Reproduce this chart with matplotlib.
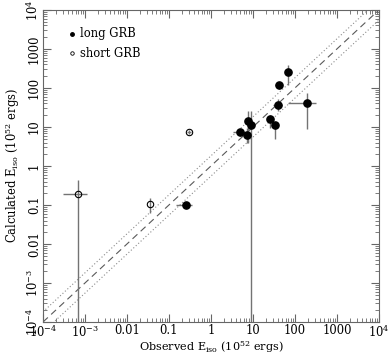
import numpy as np
import matplotlib
matplotlib.use("Agg")
import matplotlib.pyplot as plt
from matplotlib.ticker import FixedLocator, LogLocator, NullFormatter

plt.rcParams['font.family'] = 'DejaVu Serif'
plt.rcParams['mathtext.fontset'] = 'dejavuserif'

## long GRB : observed, calculated and error ranges (10^52 ergs)
long_x = [69, 41, 40, 190, 26, 33, 7.5, 9.0, 4.9, 7.4, 0.25]
long_x_lo = [69, 33, 30, 67, 26, 33, 7.5, 9.0, 3.4, 7.4, 0.15]
long_x_hi = [69, 50, 50, 316, 26, 33, 7.5, 9.0, 7.1, 7.4, 0.35]
long_y = [250, 120, 37, 42, 16, 11, 14, 11, 7.3, 6.3, 0.1]
long_y_lo = [120, 93, 25, 8.7, 9.3, 4.9, 3.8, 1e-5, 6.0, 3.8, 0.1]
long_y_hi = [390, 138, 51, 76, 20, 13.7, 25, 25, 8.8, 9.3, 0.1]

## short GRB
short_x = [7e-4, 0.035, 0.3]
short_x_lo = [3e-4, 0.035, 0.27]
short_x_hi = [1.1e-3, 0.035, 0.34]
short_y = [0.19, 0.107, 7.4]
short_y_lo = [1e-5, 0.062, 6.6]
short_y_hi = [0.44, 0.148, 8.3]

ticks = [1e-4, 1e-3, 0.01, 0.1, 1, 10, 100, 1000, 1e4]
tick_labels = [r'$10^{-4}$', r'$10^{-3}$', '0.01', '0.1', '1', '10', '100', '1000', r'$10^{4}$']

fs = 8.3
fig = plt.figure(figsize=(3.89, 3.56), dpi=100)
ax = fig.add_axes([0.1105, 0.0955, 0.8635, 0.8765])

# y = x and the scatter band
line = np.array([1e-4, 1e4])
ax.plot(line, line, color='0.35', ls=(0, (6, 4)), lw=0.8)
ax.plot(line, line * 10**0.26, color='0.55', ls=(0, (1, 2)), lw=0.8)
ax.plot(line, line / 10**0.26, color='0.55', ls=(0, (1, 2)), lw=0.8)

def errs(v, lo, hi):
    v = np.array(v)
    return [v - np.array(lo), np.array(hi) - v]

ax.errorbar(long_x, long_y, xerr=errs(long_x, long_x_lo, long_x_hi),
            yerr=errs(long_y, long_y_lo, long_y_hi), fmt='none',
            ecolor='0.45', elinewidth=1.0, capsize=0)
ax.errorbar(short_x, short_y, xerr=errs(short_x, short_x_lo, short_x_hi),
            yerr=errs(short_y, short_y_lo, short_y_hi), fmt='none',
            ecolor='0.45', elinewidth=1.0, capsize=0)
ax.plot(long_x, long_y, 'o', color='black', ms=5.2, zorder=5)
ax.plot(short_x, short_y, 'o', mfc='none', mec='black', mew=0.8, ms=4.6, zorder=5)

ax.set_xscale('log')
ax.set_yscale('log')
ax.set_xlim(1e-4, 1e4)
ax.set_ylim(1e-4, 1e4)

ax.xaxis.set_major_locator(FixedLocator(ticks))
ax.yaxis.set_major_locator(FixedLocator(ticks))
ax.set_xticklabels(tick_labels)
ax.set_yticklabels(tick_labels, rotation=90, va='center')
ax.xaxis.set_minor_locator(LogLocator(base=10, subs=np.arange(2, 10), numticks=20))
ax.yaxis.set_minor_locator(LogLocator(base=10, subs=np.arange(2, 10), numticks=20))
ax.xaxis.set_minor_formatter(NullFormatter())
ax.yaxis.set_minor_formatter(NullFormatter())
ax.tick_params(which='both', direction='in', top=True, right=True, labelsize=fs, color='0.4', pad=1.5)
ax.tick_params(which='major', length=6, width=0.8)
ax.tick_params(which='minor', length=3, width=0.6)
for s in ax.spines.values():
    s.set_color('0.4')
    s.set_linewidth(0.8)

ax.set_xlabel(r'Observed E$_{\rm iso}$ (10$^{52}$ ergs)', fontsize=8.1, va='center')
ax.xaxis.set_label_coords(0.5, -0.079)
ax.set_ylabel(r'Calculated E$_{\rm iso}$ (10$^{52}$ ergs)', fontsize=fs, labelpad=2)

# legend drawn by hand like the original
ax.plot([0.086], [0.923], 'o', color='black', ms=2.5, transform=ax.transAxes)
ax.text(0.11, 0.923, 'long GRB', transform=ax.transAxes, fontsize=fs, va='center')
ax.plot([0.086], [0.862], 'o', mfc='none', mec='black', mew=0.6, ms=2.5, transform=ax.transAxes)
ax.text(0.11, 0.862, 'short GRB', transform=ax.transAxes, fontsize=fs, va='center')

fig.savefig('out.png', dpi=100)
